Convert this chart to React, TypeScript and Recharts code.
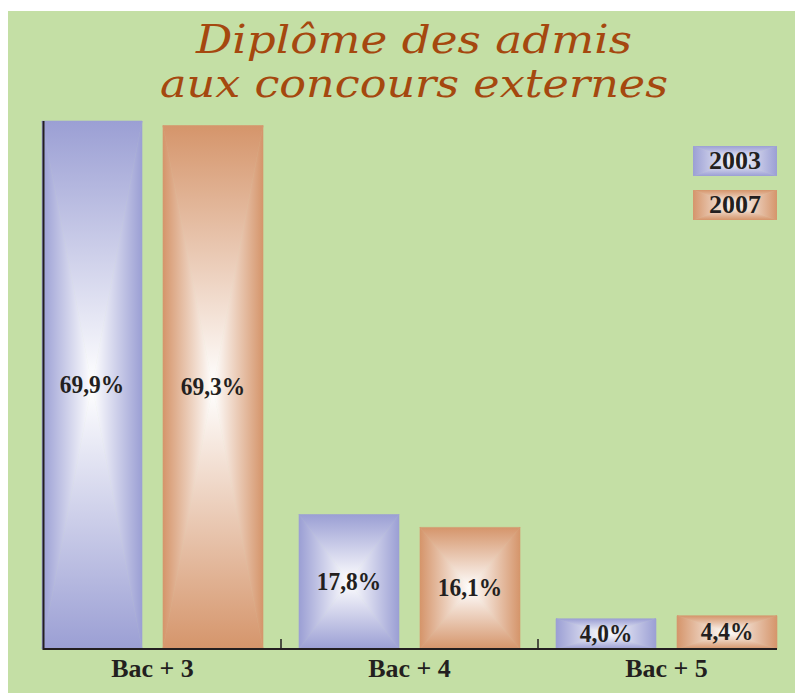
import React from "react";
import { BarChart, Bar, XAxis, YAxis, LabelList, Legend } from "recharts";

const categories = ["Bac + 3", "Bac + 4", "Bac + 5"];
const values2003 = [69.9, 17.8, 4.0];
const values2007 = [69.3, 16.1, 4.4];
const seriesNames = ["2003", "2007"];
const seriesColors = ["#9b9fd4", "#d5956b"];
const titleLines = ["Diplôme des admis", "aux concours externes"];

const data = categories.map((name, i) => ({
  name,
  v2003: values2003[i],
  v2007: values2007[i],
}));

const W = 795;
const H = 693;
const MARGIN = { top: 121, right: 0, bottom: 4, left: 24 };
const X_AXIS_H = 40;
const PLOT_BOTTOM = H - MARGIN.bottom - X_AXIS_H;
const BAND = (W - MARGIN.left - MARGIN.right) / categories.length;
const INK = "#231f20";
const SERIF = "'Liberation Serif', serif";

// rectangle gradient: four triangles fading from the edge colour to white in the middle
function RectGradient({ x, y, width, height, color, id }: any) {
  if (!width || !height) return null;
  const cx = x + width / 2;
  const cy = y + height / 2;
  const x2 = x + width;
  const y2 = y + height;
  const grads = [
    { k: "t", from: [cx, y], pts: `${x},${y} ${x2},${y} ${cx},${cy}` },
    { k: "b", from: [cx, y2], pts: `${x},${y2} ${x2},${y2} ${cx},${cy}` },
    { k: "l", from: [x, cy], pts: `${x},${y} ${x},${y2} ${cx},${cy}` },
    { k: "r", from: [x2, cy], pts: `${x2},${y} ${x2},${y2} ${cx},${cy}` },
  ];
  return (
    <g>
      <defs>
        {grads.map((g) => (
          <linearGradient
            key={g.k}
            id={`${id}-${g.k}`}
            gradientUnits="userSpaceOnUse"
            x1={g.from[0]}
            y1={g.from[1]}
            x2={cx}
            y2={cy}
          >
            <stop offset="0%" stopColor={color} />
            <stop offset="100%" stopColor="#ffffff" />
          </linearGradient>
        ))}
      </defs>
      {grads.map((g) => (
        <polygon
          key={g.k}
          points={g.pts}
          fill={`url(#${id}-${g.k})`}
          stroke={`url(#${id}-${g.k})`}
          strokeWidth={0.6}
        />
      ))}
    </g>
  );
}

const makeShape = (color: string, tag: string) => (props: any) =>
  (
    <RectGradient
      x={props.x}
      y={props.y}
      width={props.width}
      height={props.height}
      color={color}
      id={`bar-${tag}-${props.index}`}
    />
  );

const fmt = (v: any) => `${Number(v).toFixed(1).replace(".", ",")}%`;

// value label, a little narrower than the plain bold serif
function ValueLabel(props: any) {
  const { x, y, width, height, value } = props;
  const cx = x + width / 2;
  const cy = y + height / 2;
  return (
    <text
      transform={`translate(${cx},${cy + 8}) scale(0.9,1)`}
      textAnchor="middle"
      fill={INK}
      fontFamily={SERIF}
      fontWeight={700}
      fontSize={26}
    >
      {fmt(value)}
    </text>
  );
}

function CategoryTick(props: any) {
  const { x, index, payload } = props;
  const bx = x - BAND / 2;
  return (
    <g>
      {index > 0 && (
        <line x1={bx} x2={bx} y1={PLOT_BOTTOM - 10} y2={PLOT_BOTTOM} stroke={INK} strokeWidth={1.5} />
      )}
      <text
        x={x}
        y={PLOT_BOTTOM + 28}
        textAnchor="middle"
        fill={INK}
        fontFamily={SERIF}
        fontWeight={700}
        fontSize={26}
      >
        {payload.value}
      </text>
    </g>
  );
}

function LegendBoxes() {
  return (
    <div style={{ width: 84 }}>
      {seriesNames.map((n, i) => (
        <div key={n} style={{ position: "relative", width: 84, height: 30, marginBottom: 14 }}>
          <svg width={84} height={30} style={{ position: "absolute", left: 0, top: 0 }}>
            <RectGradient x={0} y={0} width={84} height={30} color={seriesColors[i]} id={`leg-${n}`} />
          </svg>
          <div
            style={{
              position: "absolute",
              inset: 0,
              textAlign: "center",
              lineHeight: "30px",
              fontFamily: SERIF,
              fontWeight: 700,
              fontSize: 26,
              color: INK,
            }}
          >
            {n}
          </div>
        </div>
      ))}
    </div>
  );
}

export default function App() {
  return (
    <div style={{ position: "absolute", left: 0, top: 0, width: W, height: H, background: "#fff" }}>
      <div
        style={{ position: "absolute", left: 8, top: 11, width: W - 8, height: H - 11, background: "#c4dfa5" }}
      />
      <div style={{ position: "absolute", left: 0, top: 0 }}>
        <BarChart width={W} height={H} data={data} margin={MARGIN} barSize={100} barGap={21}>
          <XAxis
            dataKey="name"
            height={X_AXIS_H}
            axisLine={false}
            tickLine={false}
            interval={0}
            tick={<CategoryTick />}
          />
          <YAxis hide domain={[0, 69.9]} />
          <Legend
            layout="vertical"
            align="center"
            verticalAlign="middle"
            content={() => <LegendBoxes />}
            wrapperStyle={{ position: "absolute", left: 693, top: 146, width: 84 }}
          />
          <Bar
            dataKey="v2003"
            name={seriesNames[0]}
            fill={seriesColors[0]}
            shape={makeShape(seriesColors[0], "a")}
            isAnimationActive={false}
          >
            <LabelList dataKey="v2003" content={<ValueLabel />} />
          </Bar>
          <Bar
            dataKey="v2007"
            name={seriesNames[1]}
            fill={seriesColors[1]}
            shape={makeShape(seriesColors[1], "b")}
            isAnimationActive={false}
          >
            <LabelList dataKey="v2007" content={<ValueLabel />} />
          </Bar>
        </BarChart>
      </div>
      {/* title and axis lines */}
      <svg
        width={W}
        height={H}
        style={{ position: "absolute", left: 0, top: 0, pointerEvents: "none" }}
      >
        <text
          x={414}
          y={53}
          textAnchor="middle"
          textLength={436}
          lengthAdjust="spacingAndGlyphs"
          fill="#a5480f"
          fontFamily="'DejaVu Serif', serif"
          fontStyle="italic"
          fontSize={40}
        >
          {titleLines[0]}
        </text>
        <text
          x={414}
          y={97}
          textAnchor="middle"
          textLength={508}
          lengthAdjust="spacingAndGlyphs"
          fill="#a5480f"
          fontFamily="'DejaVu Serif', serif"
          fontStyle="italic"
          fontSize={40}
        >
          {titleLines[1]}
        </text>
        <line x1={43.5} x2={43.5} y1={MARGIN.top} y2={PLOT_BOTTOM + 1} stroke={INK} strokeWidth={2} />
        <line x1={43} x2={777} y1={PLOT_BOTTOM} y2={PLOT_BOTTOM} stroke={INK} strokeWidth={2} />
      </svg>
    </div>
  );
}
